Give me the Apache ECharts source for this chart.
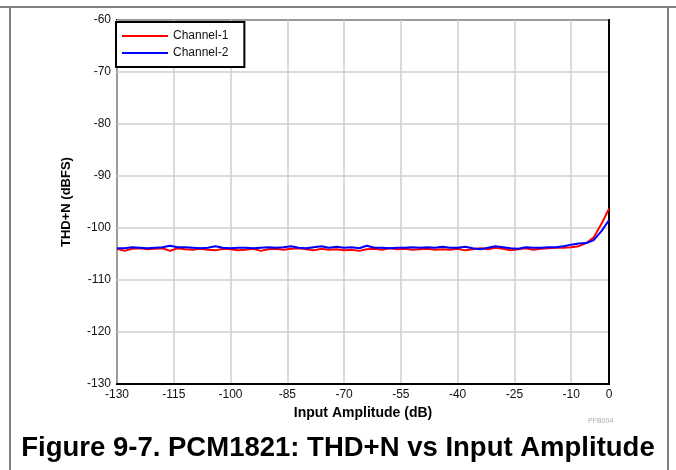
<!DOCTYPE html>
<html>
<head>
<meta charset="utf-8">
<script src="https://cdn.jsdelivr.net/npm/echarts@6/dist/echarts.min.js"></script>
<style>
html,body{margin:0;padding:0;background:#fff;}
#c{width:676px;height:470px;}
</style>
</head>
<body>
<div id="c"></div>
<script>
// Data
var amplitude = [-130,-128,-126,-124,-122,-120,-118,-116,-114,-112,-110,-108,-106,-104,-102,-100,-98,-96,-94,-92,-90,-88,-86,-84,-82,-80,-78,-76,-74,-72,-70,-68,-66,-64,-62,-60,-58,-56,-54,-52,-50,-48,-46,-44,-42,-40,-38,-36,-34,-32,-30,-28,-26,-24,-22,-20,-18,-16,-14,-12,-10,-8,-6,-4,-2,0];
var channel1 = [-104.0,-104.4,-104.0,-103.9,-104.1,-104.0,-103.9,-104.4,-103.9,-104.1,-104.2,-104.0,-104.2,-104.3,-104.0,-104.1,-104.3,-104.2,-104.0,-104.4,-104.1,-104.0,-104.2,-104.0,-103.9,-104.1,-104.3,-104.0,-104.2,-104.1,-104.3,-104.2,-104.4,-104.1,-104.0,-104.2,-103.9,-104.1,-104.0,-104.2,-104.1,-104.0,-104.2,-104.1,-104.2,-104.0,-104.3,-104.1,-103.9,-104.1,-103.8,-104.0,-104.3,-104.1,-103.9,-104.2,-104.0,-103.9,-103.8,-103.8,-103.7,-103.5,-102.9,-101.8,-99.2,-96.3];
var channel2 = [-103.9,-103.9,-103.7,-103.8,-103.9,-103.8,-103.7,-103.4,-103.7,-103.7,-103.8,-103.9,-103.8,-103.5,-103.8,-103.9,-103.8,-103.8,-103.9,-103.8,-103.7,-103.8,-103.7,-103.5,-103.8,-103.9,-103.7,-103.5,-103.8,-103.6,-103.8,-103.7,-103.9,-103.4,-103.8,-103.8,-103.9,-103.8,-103.8,-103.7,-103.8,-103.7,-103.8,-103.6,-103.8,-103.8,-103.6,-103.9,-104.1,-103.8,-103.5,-103.7,-103.9,-104.0,-103.7,-103.8,-103.8,-103.7,-103.7,-103.5,-103.2,-103.0,-102.9,-102.3,-100.6,-98.5];
var seriesNames = ['Channel-1','Channel-2'];
var xTicks = {min:-130, max:0, interval:15};
var yTicks = {min:-130, max:-60, interval:10};
var titleText = 'Figure 9-7. PCM1821: THD+N vs Input Amplitude';
var xName = 'Input Amplitude (dB)';
var yName = 'THD+N (dBFS)';

function pairs(xs, ys){ return xs.map(function(x,i){ return [x, ys[i]]; }); }

var chart = echarts.init(document.getElementById('c'), null, {renderer:'canvas'});
var font = 'Liberation Sans, Arial, Helvetica, sans-serif';
chart.setOption({
  animation:false,
  backgroundColor:'#fff',
  textStyle:{fontFamily:font},
  title:{
    text:titleText, left:'center', top:429,
    textStyle:{fontFamily:font, fontSize:27.5, fontWeight:'bold', color:'#000'}
  },
  legend:{
    left:116, top:22, orient:'vertical',
    data:seriesNames,
    icon:'rect', itemWidth:46, itemHeight:2, itemGap:5,
    backgroundColor:'#fff', borderColor:'#000', borderWidth:2,
    padding:[8,16,8,6],
    textStyle:{fontFamily:font, fontSize:12, color:'#111'}
  },
  grid:{left:117, right:67, top:20, bottom:86, show:true, borderColor:'#000', borderWidth:2, backgroundColor:'transparent'},
  xAxis:{
    type:'value', min:xTicks.min, max:xTicks.max, interval:xTicks.interval,
    name:xName, nameLocation:'middle', nameGap:20,
    nameTextStyle:{fontFamily:font, fontSize:14, fontWeight:'bold', color:'#000'},
    axisLine:{show:true, lineStyle:{color:'#000', width:2}},
    axisTick:{show:false},
    axisLabel:{fontFamily:font, fontSize:12, color:'#111', margin:5, hideOverlap:false, showMaxLabel:true},
    splitLine:{show:true, lineStyle:{color:'#cfcfcf', width:1.5}}
  },
  yAxis:{
    type:'value', min:yTicks.min, max:yTicks.max, interval:yTicks.interval,
    name:yName, nameLocation:'middle', nameGap:44, nameRotate:90,
    nameTextStyle:{fontFamily:font, fontSize:13, fontWeight:'bold', color:'#000'},
    axisLine:{show:true, lineStyle:{color:'#000', width:2}},
    axisTick:{show:false},
    axisLabel:{fontFamily:font, fontSize:12, color:'#111', margin:6},
    splitLine:{show:true, lineStyle:{color:'#cfcfcf', width:1.5}}
  },
  graphic:[
    {type:'line', shape:{x1:0,y1:7,x2:676,y2:7}, style:{stroke:'#7f7f7f', lineWidth:2}},
    {type:'line', shape:{x1:10,y1:7,x2:10,y2:470}, style:{stroke:'#7f7f7f', lineWidth:2}},
    {type:'line', shape:{x1:668,y1:7,x2:668,y2:470}, style:{stroke:'#7f7f7f', lineWidth:2}},
    {type:'text', left:588, top:418, style:{text:'PFB004', fontSize:7, fill:'#aaa', fontFamily:font}}
  ],
  series:[
    {name:seriesNames[0], type:'line', data:pairs(amplitude, channel1), showSymbol:false, symbol:'none',
     lineStyle:{color:'#ff0000', width:2}, itemStyle:{color:'#ff0000'}, z:2},
    {name:seriesNames[1], type:'line', data:pairs(amplitude, channel2), showSymbol:false, symbol:'none',
     lineStyle:{color:'#0000ff', width:2}, itemStyle:{color:'#0000ff'}, z:3}
  ]
});
</script>
</body>
</html>
